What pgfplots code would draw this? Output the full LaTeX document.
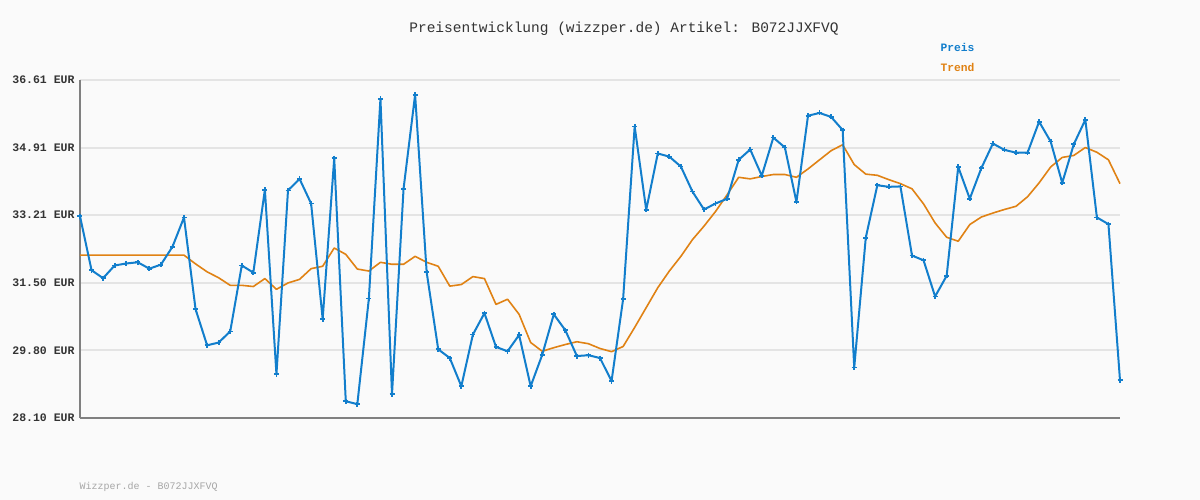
\documentclass[border=0pt]{standalone}
\usepackage{fontspec}
\setmainfont{Liberation Mono}
\usepackage{pgfplots}
\pgfplotsset{compat=1.18}
\definecolor{preis}{RGB}{18,126,204}
\definecolor{trend}{RGB}{224,130,20}
\definecolor{bg}{RGB}{250,250,250}
\definecolor{gridc}{RGB}{228,228,228}
\definecolor{axc}{RGB}{128,128,128}
\definecolor{txt}{RGB}{51,51,51}

% Preis, index 0..90
\pgfplotstableread{
i v
0 33.18
1 31.82
2 31.62
3 31.94
4 31.99
5 32.02
6 31.86
7 31.96
8 32.41
9 33.15
10 30.84
11 29.93
12 30.00
13 30.28
14 31.94
15 31.76
16 33.85
17 29.20
18 33.83
19 34.12
20 33.50
21 30.59
22 34.64
23 28.52
24 28.45
25 31.11
26 36.14
27 28.70
28 33.87
29 36.24
30 31.77
31 29.83
32 29.61
33 28.90
34 30.20
35 30.74
36 29.89
37 29.78
38 30.19
39 28.90
40 29.69
41 30.71
42 30.31
43 29.66
44 29.68
45 29.61
46 29.03
47 31.09
48 35.44
49 33.34
50 34.76
51 34.68
52 34.43
53 33.80
54 33.35
55 33.50
56 33.62
57 34.60
58 34.86
59 34.20
60 35.16
61 34.91
62 33.54
63 35.71
64 35.78
65 35.68
66 35.35
67 29.37
68 32.64
69 33.96
70 33.92
71 33.93
72 32.19
73 32.07
74 31.16
75 31.68
76 34.42
77 33.62
78 34.39
79 35.01
80 34.85
81 34.78
82 34.78
83 35.56
84 35.06
85 34.02
86 34.99
87 35.61
88 33.15
89 32.98
90 29.05
}\preistable

% Trend
\pgfplotstableread{
i v
0 32.20
1 32.20
2 32.20
3 32.20
4 32.20
5 32.20
6 32.20
7 32.20
8 32.20
9 32.20
10 31.98
11 31.78
12 31.63
13 31.44
14 31.44
15 31.41
16 31.61
17 31.34
18 31.50
19 31.59
20 31.86
21 31.92
22 32.38
23 32.22
24 31.85
25 31.80
26 32.02
27 31.97
28 31.97
29 32.17
30 32.02
31 31.92
32 31.42
33 31.46
34 31.66
35 31.61
36 30.96
37 31.09
38 30.71
39 30.00
40 29.78
41 29.87
42 29.95
43 30.02
44 29.97
45 29.85
46 29.77
47 29.90
48 30.38
49 30.88
50 31.38
51 31.80
52 32.17
53 32.59
54 32.93
55 33.30
56 33.72
57 34.16
58 34.12
59 34.18
60 34.23
61 34.23
62 34.16
63 34.37
64 34.60
65 34.83
66 34.98
67 34.48
68 34.24
69 34.21
70 34.10
71 34.00
72 33.87
73 33.49
74 33.01
75 32.65
76 32.55
77 32.97
78 33.16
79 33.26
80 33.35
81 33.43
82 33.67
83 34.02
84 34.42
85 34.66
86 34.71
87 34.91
88 34.79
89 34.60
90 34.00
}\trendtable

\begin{document}
\begin{tikzpicture}[x=1pt,y=1pt]
  \fill[bg] (0,0) rectangle (1200,500);
  \begin{axis}[
    at={(80pt,82pt)}, anchor=south west,
    scale only axis,
    width=1040pt, height=338pt,
    xmin=0, xmax=90,
    ymin=28.10, ymax=36.61,
    axis x line*=bottom, axis y line*=left,
    axis line style={axc, line width=2pt, -},
    xtick=\empty,
    ytick={28.10,29.80,31.50,33.21,34.91,36.61},
    yticklabels={28.10 EUR,29.80 EUR,31.50 EUR,33.21 EUR,34.91 EUR,36.61 EUR},
    yticklabel style={font=\fontsize{11.5}{12}\selectfont\bfseries, text=txt, xshift=-2pt},
    major tick length=0pt,
    ymajorgrids,
    grid style={gridc, line width=2pt},
    clip=false,
  ]
  \addplot[trend, line width=1.6pt, line join=round] table[x=i,y=v] {\trendtable};
  \addplot[preis, line width=2pt, line join=round, mark=+, mark size=2.5pt, mark options={line width=1.8pt}] table[x=i,y=v] {\preistable};
  \end{axis}
  \node[text=txt, font=\fontsize{14.5}{15}\selectfont] at (624,471) {Preisentwicklung (wizzper.de) Artikel: B072JJXFVQ};
  \node[anchor=west, text=preis, font=\fontsize{11.3}{12}\selectfont\bfseries] at (937,453) {Preis};
  \node[anchor=west, text=trend, font=\fontsize{11.3}{12}\selectfont\bfseries] at (937,433) {Trend};
  \node[anchor=west, text=black!35, font=\fontsize{10}{11}\selectfont] at (76,13) {Wizzper.de - B072JJXFVQ};
\end{tikzpicture}
\end{document}
